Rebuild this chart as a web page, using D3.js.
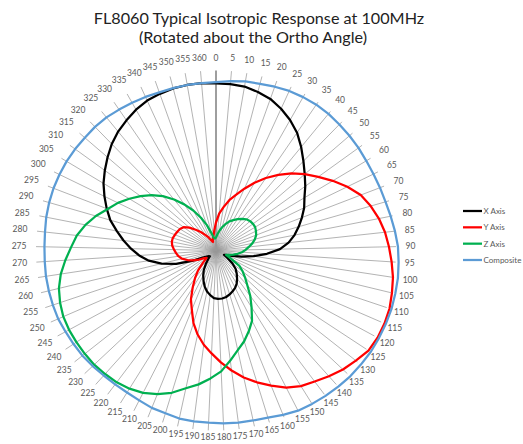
<!DOCTYPE html>
<meta charset="utf-8">
<style>
body { margin: 0; background: #fff; }
text { font-family: Lato, "Liberation Sans", sans-serif; }
.title { font-size: 16.2px; fill: #222; text-anchor: middle; }
.spoke { stroke: #999; stroke-width: 0.75; }
.axisline { stroke: #868686; stroke-width: 1.6; }
.cat { font-size: 8.5px; fill: #595959; text-anchor: middle; dominant-baseline: central; }
.series { fill: none; stroke-width: 2.25; stroke-linejoin: round; }
.legend text { font-size: 8px; fill: #595959; dominant-baseline: central; }
</style>
<body>
<div id="chart"></div>
<script src="https://d3js.org/d3.v7.min.js"></script>
<script>
// rotation angle categories (deg)
var angles = [0,5,10,15,20,25,30,35,40,45,50,55,60,65,70,75,80,85,90,95,100,105,110,115,120,
  125,130,135,140,145,150,155,160,165,170,175,180,185,190,195,200,205,210,215,220,225,230,235,
  240,245,250,255,260,265,270,275,280,285,290,295,300,305,310,315,320,325,330,335,340,345,350,355,360];

// response in dB
var xAxis = [-3.25,-3.25,-3.4,-4,-4.75,-6,-7.5,-9.25,-11.5,-13.75,-15.75,-17.5,-19.25,-20.5,-22,
  -23.5,-25,-26.75,-29,-32.25,-35.5,-38.5,-40.75,-42.25,-42.75,-41.5,-39.75,-38.25,-37.25,-36.25,
  -35.25,-34.5,-34,-33.5,-33.1,-32.9,-32.9,-33.1,-33.75,-34.5,-35.5,-36.75,-38,-39.25,-40.75,-42,
  -42.9,-42.75,-42.25,-41.25,-38.5,-34.5,-31,-28,-25.75,-23.75,-21.75,-19.75,-17.5,-15.75,-14,
  -12.25,-10.75,-9.25,-7.75,-6.5,-5.5,-4.5,-3.75,-3.4,-3.1,-3,-3];

var yAxis = [-38,-35.75,-34,-32,-30.25,-28,-25.5,-23,-20.5,-18,-15.75,-13.5,-11,-8.5,-6.25,-4.75,
  -3.5,-2.5,-1.75,-1,-0.25,0.25,0.75,0.9,0.9,0.6,-0.5,-1.5,-2.75,-4,-5,-6.5,-8.5,-10.5,-12.5,-14.75,
  -17,-19.25,-21.25,-23.5,-26,-29,-31.25,-34,-36.25,-38.25,-40.5,-42,-41.5,-40.25,-38.75,-37.5,
  -36.25,-35.5,-35,-34.5,-34,-33.75,-33.75,-34,-34.25,-34.5,-35,-36.25,-37.75,-39,-40.25,-41.25,
  -42.25,-42.75,-42,-41.25,-40];

var zAxis = [-41.75,-41,-40,-39,-38,-37,-36.25,-35.5,-34.75,-34.1,-33.75,-33.6,-33.6,-33.9,-34.25,
  -34.9,-35.75,-36.75,-37.6,-38.5,-39.5,-40.5,-41.5,-42.25,-40.75,-38,-36.5,-35,-33.25,-30.75,-28.25,
  -25.25,-23.25,-21.25,-19.5,-17.25,-14.75,-13,-11.25,-9.75,-7.75,-6.25,-5,-4.25,-3.75,-3.5,-3.25,
  -3.25,-3.25,-3.25,-3.4,-3.9,-4.6,-5.75,-7.25,-8.75,-10,-11.75,-13.75,-16,-17.75,-19.75,-21.75,
  -23.75,-26,-28.5,-31,-33.5,-36,-38.25,-40.5,-41.75,-42];

var composite = [-2.9,-2.5,-2.1,-1.9,-1.5,-1.1,-0.9,-0.75,-0.75,-0.9,-1,-1.1,-1.25,-1.25,-1.1,-0.9,
  -0.5,0,0.5,0.75,1,1.1,1.25,1.25,1.25,1.25,1.1,1,0.75,0.5,0.25,0,-0.6,-1.25,-1.5,-1.6,-1.75,-1.9,
  -1.9,-2,-2.4,-2.5,-2.9,-3.1,-3.1,-3,-2.75,-2.5,-2.4,-2.25,-2,-2,-2,-2,-2.1,-2.1,-2,-1.75,-1.6,
  -1.5,-1.5,-1.5,-1.6,-1.75,-1.75,-1.9,-2.25,-2.5,-2.75,-3,-3,-3,-3];

var seriesNames = ["X Axis", "Y Axis", "Z Axis", "Composite"];
var seriesColors = ["#000000", "#ff0000", "#00b050", "#5b9bd5"];
var seriesData = [xAxis, yAxis, zAxis, composite];

var width = 523, height = 444,
    cx = 216, cy = 250.5,
    radius = 180;

var svg = d3.select("#chart").append("svg")
    .attr("width", width)
    .attr("height", height);

svg.append("text").attr("class", "title")
    .attr("x", 259).attr("y", 24)
    .text("FL8060 Typical Isotropic Response at 100MHz");
svg.append("text").attr("class", "title")
    .attr("x", 253).attr("y", 43)
    .text("(Rotated about the Ortho Angle)");

var angle = d3.scaleLinear().domain([0, angles.length]).range([0, 2 * Math.PI]);
var r = d3.scaleLinear().domain([-45, 0]).range([0, radius]);

var g = svg.append("g")
    .attr("transform", "translate(" + cx + "," + cy + ")");

// spokes
g.selectAll(".spoke")
    .data(angles)
    .enter().append("line")
    .attr("class", function(d, i) { return i == 0 ? "axisline" : "spoke"; })
    .attr("x1", 0).attr("y1", 0)
    .attr("x2", function(d, i) { return r(0) * Math.sin(angle(i)); })
    .attr("y2", function(d, i) { return -r(0) * Math.cos(angle(i)); });

// category labels
g.selectAll(".cat")
    .data(angles)
    .enter().append("text")
    .attr("class", "cat")
    .text(function(d) { return d; })
    .attr("transform", function(d, i) {
        var a = angle(i);
        var w = this.getComputedTextLength();
        var rr = r(0) + 9.5 + 3.5 * Math.cos(a) + Math.abs(Math.sin(a)) * w / 2;
        return "translate(" + (rr * Math.sin(a)) + "," + (-rr * Math.cos(a)) + ")";
    });

var line = d3.lineRadial()
    .angle(function(d, i) { return angle(i); })
    .radius(function(d) { return r(d); })
    .curve(d3.curveLinearClosed);

g.selectAll(".series")
    .data(seriesData)
    .enter().append("path")
    .attr("class", "series")
    .attr("stroke", function(d, i) { return seriesColors[i]; })
    .attr("d", line);

// legend
var legendY = d3.scalePoint().domain(seriesNames).range([211, 260]);
var legend = svg.append("g").attr("class", "legend")
    .selectAll("g")
    .data(seriesNames)
    .enter().append("g")
    .attr("transform", function(d) { return "translate(463," + legendY(d) + ")"; });

legend.append("line")
    .attr("x1", 0).attr("x2", 19)
    .attr("stroke", function(d, i) { return seriesColors[i]; })
    .attr("stroke-width", 2.25);

legend.append("text")
    .attr("x", 20.5)
    .text(function(d) { return d; });
</script>
</body>
